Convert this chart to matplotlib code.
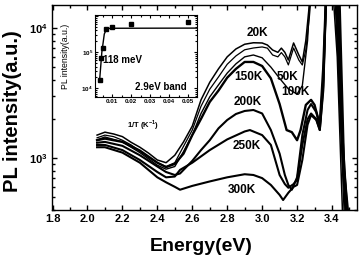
import numpy as np
import matplotlib
matplotlib.use("Agg")
import matplotlib.pyplot as plt
from matplotlib.ticker import FixedLocator, LogLocator, FuncFormatter, NullFormatter, MultipleLocator

plt.rcParams['font.family'] = ['Liberation Sans', 'DejaVu Sans']
plt.rcParams['mathtext.fontset'] = 'custom'
plt.rcParams['mathtext.rm'] = 'Liberation Sans'
plt.rcParams['mathtext.bf'] = 'Liberation Sans:bold'

# ---- main spectra (energy in eV, PL intensity a.u.) ----
E_20K = [2.055, 2.10, 2.15, 2.20, 2.25, 2.30, 2.35, 2.40, 2.45, 2.50, 2.55, 2.60, 2.65, 2.70, 2.75, 2.80,
         2.85, 2.90, 2.95, 3.00, 3.03, 3.06, 3.09, 3.11, 3.13, 3.15, 3.18, 3.21, 3.23, 3.25, 3.27, 3.29,
         3.40, 3.43, 3.46, 3.50]
I_20K = [1500, 1580, 1530, 1460, 1320, 1210, 1090, 965, 920, 1050, 1330, 1760, 2800, 3820, 4850, 6000,
         6900, 7500, 7700, 7670, 7400, 6770, 6500, 7000, 6500, 5670, 7670, 6200, 5480, 8000, 15000, 25000,
         25000, 6000, 380, 300]

E_50K = [2.055, 2.10, 2.15, 2.20, 2.25, 2.30, 2.35, 2.40, 2.45, 2.50, 2.55, 2.60, 2.65, 2.70, 2.75, 2.80,
         2.85, 2.90, 2.95, 3.00, 3.03, 3.06, 3.09, 3.11, 3.13, 3.15, 3.18, 3.21, 3.23, 3.25, 3.27, 3.29,
         3.41, 3.44, 3.47, 3.50]
I_50K = [1430, 1500, 1460, 1370, 1260, 1130, 1010, 920, 860, 920, 1230, 1640, 2500, 3380, 4200, 5260,
         6100, 6800, 7020, 7150, 7000, 6200, 6000, 6470, 6000, 5200, 7020, 5670, 5190, 6770, 12000, 25000,
         25000, 4000, 350, 300]

E_100K = [2.055, 2.10, 2.20, 2.30, 2.40, 2.45, 2.50, 2.55, 2.60, 2.65, 2.70, 2.75, 2.80, 2.85, 2.90,
          2.95, 3.00, 3.05, 3.10, 3.15, 3.20, 3.23, 3.26, 3.28, 3.42, 3.45, 3.48, 3.50]
I_100K = [1380, 1450, 1330, 1100, 880, 820, 860, 1120, 1500, 2200, 2950, 3650, 4500, 5300, 6000,
          6200, 5900, 5000, 4100, 3400, 3100, 3600, 8000, 25000, 25000, 3000, 330, 300]

E_150K = [2.055, 2.10, 2.20, 2.30, 2.40, 2.45, 2.50, 2.55, 2.60, 2.65, 2.70, 2.75, 2.80, 2.85, 2.90,
          2.95, 3.00, 3.05, 3.10, 3.14, 3.17, 3.20, 3.22, 3.25, 3.28, 3.30, 3.33, 3.35, 3.37, 3.42,
          3.45, 3.48, 3.50]
I_150K = [1370, 1410, 1330, 1140, 920, 850, 900, 1080, 1500, 2000, 2700, 3300, 4150, 4850, 5480,
          5480, 5100, 4100, 2600, 1640, 1580, 1370, 1640, 2560, 2800, 2560, 1800, 5000, 25000, 25000,
          2000, 330, 300]

E_200K = [2.055, 2.10, 2.20, 2.30, 2.40, 2.45, 2.50, 2.53, 2.60, 2.65, 2.70, 2.75, 2.80, 2.85, 2.90,
          2.95, 3.00, 3.05, 3.10, 3.13, 3.15, 3.17, 3.20, 3.23, 3.26, 3.28, 3.31, 3.33, 3.35, 3.37,
          3.43, 3.46, 3.49, 3.50]
I_200K = [1310, 1330, 1240, 1050, 860, 780, 740, 760, 950, 1150, 1370, 1690, 1960, 2180, 2300,
          2340, 2200, 1640, 1080, 740, 620, 570, 710, 1500, 2340, 2600, 2250, 1800, 4000, 25000,
          25000, 1500, 330, 300]

E_250K = [2.055, 2.10, 2.20, 2.30, 2.40, 2.45, 2.50, 2.53, 2.60, 2.70, 2.80, 2.90, 2.93, 3.00, 3.05,
          3.10, 3.13, 3.15, 3.18, 3.20, 3.23, 3.26, 3.28, 3.31, 3.33, 3.35, 3.37, 3.43, 3.46, 3.49, 3.50]
I_250K = [1260, 1260, 1150, 965, 780, 710, 720, 810, 920, 1150, 1390, 1600, 1640, 1500, 1260,
          740, 630, 590, 630, 680, 1260, 1990, 2200, 1990, 1640, 3600, 25000, 25000, 1200, 330, 300]

E_300K = [2.055, 2.10, 2.20, 2.30, 2.40, 2.45, 2.50, 2.53, 2.60, 2.70, 2.80, 2.90, 2.95, 3.00, 3.05,
          3.10, 3.12, 3.15, 3.18, 3.20, 3.23, 3.26, 3.28, 3.31, 3.33, 3.35, 3.37, 3.44, 3.47, 3.50]
I_300K = [1210, 1210, 1100, 920, 710, 650, 600, 570, 610, 660, 710, 750, 740, 700, 620,
          520, 475, 540, 600, 620, 965, 1800, 2140, 1960, 1640, 3300, 25000, 25000, 800, 300]

# ---- inset: integrated intensity of the 2.9 eV band vs 1/T ----
inset_invT = [1/300, 1/250, 1/200, 1/150, 1/100, 1/50, 1/20]
inset_I = [1.67e4, 7.1e4, 1.3e5, 4.3e5, 5.06e5, 5.9e5, 6.9e5]
fit_invT = [0.0033, 0.0045, 0.0058, 0.0070, 0.0090, 0.0545]
fit_I = [1.6e4, 1.0e5, 3.2e5, 4.4e5, 4.6e5, 4.65e5]

labels = ['20K', '50K', '100K', '150K', '200K', '250K', '300K']
label_xy = [(2.971, 9150), (3.143, 4200), (3.188, 3220), (2.919, 4200), (2.919, 2700), (2.914, 1240), (2.885, 570)]

fig = plt.figure(figsize=(3.6, 2.61), dpi=100)
ax = fig.add_axes([52/360, 1 - 210/261, 305/360, 205/261])

curves = [(E_20K, I_20K, 1.1), (E_50K, I_50K, 0.9), (E_100K, I_100K, 1.0), (E_150K, I_150K, 1.7),
          (E_200K, I_200K, 1.5), (E_250K, I_250K, 1.5), (E_300K, I_300K, 1.5)]
for E, I, lw in curves:
    ax.plot(E, I, color='black', lw=lw)

ax.set_yscale('log')
ax.set_xlim(1.797, 3.543)
ax.set_ylim(398, 15030)
ax.xaxis.set_major_locator(MultipleLocator(0.2))
ax.xaxis.set_minor_locator(MultipleLocator(0.1))
ax.xaxis.set_major_formatter(FuncFormatter(lambda v, p: f'{v:.1f}'))
ax.yaxis.set_major_locator(FixedLocator([1e3, 1e4]))
ax.yaxis.set_minor_locator(LogLocator(base=10, subs=np.arange(2, 10)))
ax.yaxis.set_minor_formatter(NullFormatter())
ax.yaxis.set_major_formatter(FuncFormatter(lambda v, p: r'$\mathbf{10^{%d}}$' % round(np.log10(v))))
ax.tick_params(which='both', direction='in', top=True, right=True, width=1.0)
ax.tick_params(which='major', length=3.5, labelsize=8, pad=3)
ax.tick_params(which='minor', length=2.5)
for lab in ax.get_xticklabels():
    lab.set_fontweight('bold')
for s in ax.spines.values():
    s.set_linewidth(1.0)

ax.set_xlabel('Energy(eV)', fontsize=14, fontweight='bold')
ax.set_ylabel('PL intensity(a.u.)', fontsize=14.5, fontweight='bold')
ax.xaxis.set_label_coords(0.49, -0.135)
ax.yaxis.set_label_coords(-0.097, 0.48)

for lab, (x, y) in zip(labels, label_xy):
    ax.text(x, y, lab, fontsize=8.5, fontweight='bold', ha='center', va='center')

# inset
ins = fig.add_axes([95/360, 1 - 97/261, 102/360, 82/261])
ins.plot(fit_invT, fit_I, color='black', lw=1.0)
ins.plot(inset_invT, inset_I, 's', color='black', ms=2.5)
ins.set_yscale('log')
ins.set_xlim(0.0009, 0.0546)
ins.set_ylim(10**3.76, 10**6.03)
ins.xaxis.set_major_locator(FixedLocator([0.01, 0.02, 0.03, 0.04, 0.05]))
ins.xaxis.set_minor_locator(MultipleLocator(0.005))
ins.xaxis.set_major_formatter(FuncFormatter(lambda v, p: f'{v:.2f}'))
ins.yaxis.set_major_locator(FixedLocator([1e4, 1e5, 1e6]))
ins.yaxis.set_minor_locator(LogLocator(base=10, subs=np.arange(2, 10)))
ins.yaxis.set_minor_formatter(NullFormatter())
ins.yaxis.set_major_formatter(FuncFormatter(lambda v, p: r'$\mathbf{10^{%d}}$' % round(np.log10(v)) if v < 5e5 else ''))
ins.tick_params(which='both', direction='in', top=True, right=True, width=0.8)
ins.tick_params(which='major', length=2.5, labelsize=4.5, pad=1.5)
ins.tick_params(which='minor', length=1.5)
for lab in ins.get_xticklabels():
    lab.set_fontweight('bold')
ins.set_xlabel(r'1/T (K$^{\mathbf{-1}}$)', fontsize=5.5, fontweight='bold')
ins.set_ylabel('PL intensity(a.u.)', fontsize=6.3)
ins.xaxis.set_label_coords(0.47, -0.26)
ins.yaxis.set_label_coords(-0.25, 0.49)
ins.text(0.08, 0.45, '118 meV', transform=ins.transAxes, fontsize=7, fontweight='bold', ha='left', va='center')
ins.text(0.39, 0.12, '2.9eV band', transform=ins.transAxes, fontsize=7, fontweight='bold', ha='left', va='center')

fig.savefig('out.png', dpi=100)
